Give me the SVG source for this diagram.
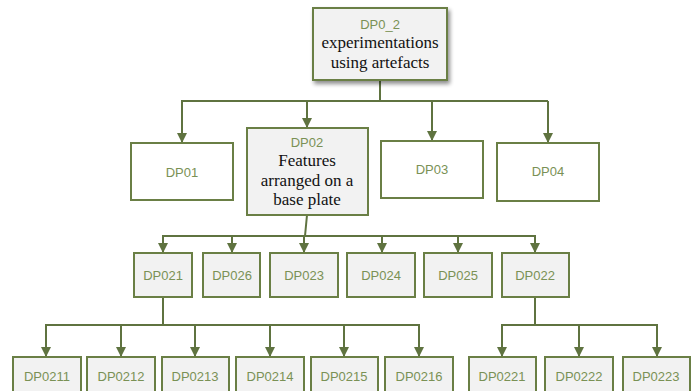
<svg xmlns="http://www.w3.org/2000/svg" width="697" height="391" viewBox="0 0 697 391">
<style>
.box{fill:#f2f2f2;stroke:#6a7f45;stroke-width:2}
.wbox{fill:#ffffff;stroke:#6a7f45;stroke-width:2}
.lbl{font-family:"Liberation Sans",Arial,sans-serif;font-size:13px;fill:#7a9155;text-anchor:middle}
.txt{font-family:"Liberation Serif","Times New Roman",serif;font-size:17px;fill:#111111;text-anchor:middle}
.con{fill:none;stroke:#5f7340;stroke-width:2}
</style>
<defs>
<marker id="ah" markerWidth="10" markerHeight="10" refX="9" refY="5" orient="auto" markerUnits="userSpaceOnUse">
<path d="M0,0 L10,5 L0,10 Z" fill="#5f7340"/>
</marker>
<filter id="sh" x="-20%" y="-20%" width="150%" height="150%">
<feGaussianBlur in="SourceAlpha" stdDeviation="2"/>
<feOffset dx="2" dy="3" result="b"/>
<feComponentTransfer><feFuncA type="linear" slope="0.45"/></feComponentTransfer>
<feMerge><feMergeNode/><feMergeNode in="SourceGraphic"/></feMerge>
</filter>
</defs>
<g id="connectors">
<path class="con" d="M380,80 V101 M181,101 H548"/>
<path class="con" d="M182,101 V142" marker-end="url(#ah)"/>
<path class="con" d="M307,101 V127" marker-end="url(#ah)"/>
<path class="con" d="M432,101 V140" marker-end="url(#ah)"/>
<path class="con" d="M548,101 V142" marker-end="url(#ah)"/>
<path class="con" d="M307,215 L305,236 M162,236 H536"/>
<path class="con" d="M163,236 V252" marker-end="url(#ah)"/>
<path class="con" d="M232,236 V252" marker-end="url(#ah)"/>
<path class="con" d="M304,236 V252" marker-end="url(#ah)"/>
<path class="con" d="M382,236 V252" marker-end="url(#ah)"/>
<path class="con" d="M458,236 V252" marker-end="url(#ah)"/>
<path class="con" d="M535,236 V252" marker-end="url(#ah)"/>
<path class="con" d="M163,297 V325 M45,325 H420"/>
<path class="con" d="M46,325 V356" marker-end="url(#ah)"/>
<path class="con" d="M121,325 V356" marker-end="url(#ah)"/>
<path class="con" d="M195,325 V356" marker-end="url(#ah)"/>
<path class="con" d="M270,325 V356" marker-end="url(#ah)"/>
<path class="con" d="M344,325 V356" marker-end="url(#ah)"/>
<path class="con" d="M419,325 V356" marker-end="url(#ah)"/>
<path class="con" d="M535,297 V325 M501,325 H658"/>
<path class="con" d="M502,325 V356" marker-end="url(#ah)"/>
<path class="con" d="M579,325 V356" marker-end="url(#ah)"/>
<path class="con" d="M657,325 V356" marker-end="url(#ah)"/>
</g>
<g id="DP0_2"><rect class="box" x="313" y="8" width="134" height="72" filter="url(#sh)"/><text class="lbl" x="380" y="29">DP0_2</text><text class="txt" x="380" y="48">experimentations</text><text class="txt" x="380" y="68">using artefacts</text></g>
<g id="DP01"><rect class="wbox" x="131" y="143" width="102" height="57"/><text class="lbl" x="182" y="177">DP01</text></g>
<g id="DP02"><rect class="box" x="247" y="128" width="121" height="87"/><text class="lbl" x="307" y="147">DP02</text><text class="txt" x="307" y="166">Features</text><text class="txt" x="307" y="186">arranged on a</text><text class="txt" x="307" y="205">base plate</text></g>
<g id="DP03"><rect class="wbox" x="381" y="141" width="102" height="57"/><text class="lbl" x="432" y="174">DP03</text></g>
<g id="DP04"><rect class="wbox" x="497" y="143" width="102" height="58"/><text class="lbl" x="548" y="176">DP04</text></g>
<g id="DP021"><rect class="box" x="134" y="253" width="58" height="44"/><text class="lbl" x="163" y="280">DP021</text></g>
<g id="DP026"><rect class="box" x="203" y="253" width="57" height="44"/><text class="lbl" x="232" y="280">DP026</text></g>
<g id="DP023"><rect class="box" x="270" y="253" width="68" height="44"/><text class="lbl" x="304" y="280">DP023</text></g>
<g id="DP024"><rect class="box" x="347" y="253" width="68" height="44"/><text class="lbl" x="381" y="280">DP024</text></g>
<g id="DP025"><rect class="box" x="424" y="253" width="68" height="44"/><text class="lbl" x="458" y="280">DP025</text></g>
<g id="DP022"><rect class="box" x="502" y="253" width="67" height="44"/><text class="lbl" x="535" y="280">DP022</text></g>
<g id="DP0211"><rect class="box" x="13" y="357" width="68" height="44"/><text class="lbl" x="47" y="381">DP0211</text></g>
<g id="DP0212"><rect class="box" x="87" y="357" width="68" height="44"/><text class="lbl" x="121" y="381">DP0212</text></g>
<g id="DP0213"><rect class="box" x="162" y="357" width="67" height="44"/><text class="lbl" x="195" y="381">DP0213</text></g>
<g id="DP0214"><rect class="box" x="236" y="357" width="68" height="44"/><text class="lbl" x="270" y="381">DP0214</text></g>
<g id="DP0215"><rect class="box" x="311" y="357" width="67" height="44"/><text class="lbl" x="344" y="381">DP0215</text></g>
<g id="DP0216"><rect class="box" x="385" y="357" width="68" height="44"/><text class="lbl" x="419" y="381">DP0216</text></g>
<g id="DP0221"><rect class="box" x="469" y="357" width="67" height="44"/><text class="lbl" x="502" y="381">DP0221</text></g>
<g id="DP0222"><rect class="box" x="545" y="357" width="68" height="44"/><text class="lbl" x="579" y="381">DP0222</text></g>
<g id="DP0223"><rect class="box" x="623" y="357" width="67" height="44"/><text class="lbl" x="656" y="381">DP0223</text></g>
</svg>
